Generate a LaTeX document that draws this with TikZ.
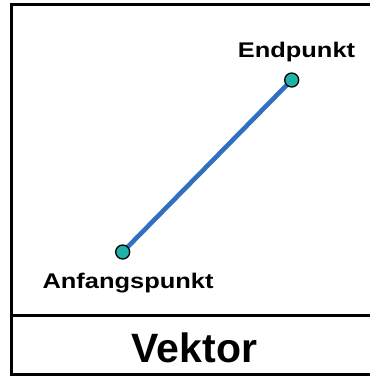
\documentclass[tikz,border=0pt]{standalone}
\usepackage{fontspec}
\setmainfont{Liberation Sans}
\newfontfamily\widefont[FakeStretch=1.2]{Liberation Sans}
\usepackage{tikz}
\usetikzlibrary{positioning}
\definecolor{VBlue}{HTML}{2F70C0}
\definecolor{VTeal}{HTML}{20B2AA}

\begin{document}
\begin{tikzpicture}[
  x=1pt,y=-1pt,
  frame/.style={draw=black,line width=3pt},
  vec/.style={draw=VBlue,line width=4.6pt},
  pt/.style={circle,draw=black,line width=1.3pt,fill=VTeal,
    minimum size=14pt,inner sep=0pt},
  lbl/.style={anchor=base,inner sep=0pt,font=\widefont\bfseries\fontsize{21.2}{25}\selectfont},
  title/.style={anchor=base,inner sep=0pt,font=\bfseries\fontsize{41}{48}\selectfont}
]
  \useasboundingbox (0,0) rectangle (370,376);
  \draw[frame] (11,4.5) rectangle (373,374.5);
  \draw[frame] (11,315.5) -- (373,315.5);
  \coordinate (start) at (122.7,252);
  \coordinate (end) at (291.7,80);
  \draw[vec] (start) -- (end);
  \node[pt] (anfang) at (start) {};
  \node[pt] (ende) at (end) {};
  \node[lbl] (endlbl) at (296.5,57) {Endpunkt};
  \node[lbl] (anfanglbl) at (128,288) {Anfangspunkt};
  \node[title] (name) at (194.5,362) {Vektor};
\end{tikzpicture}
\end{document}
